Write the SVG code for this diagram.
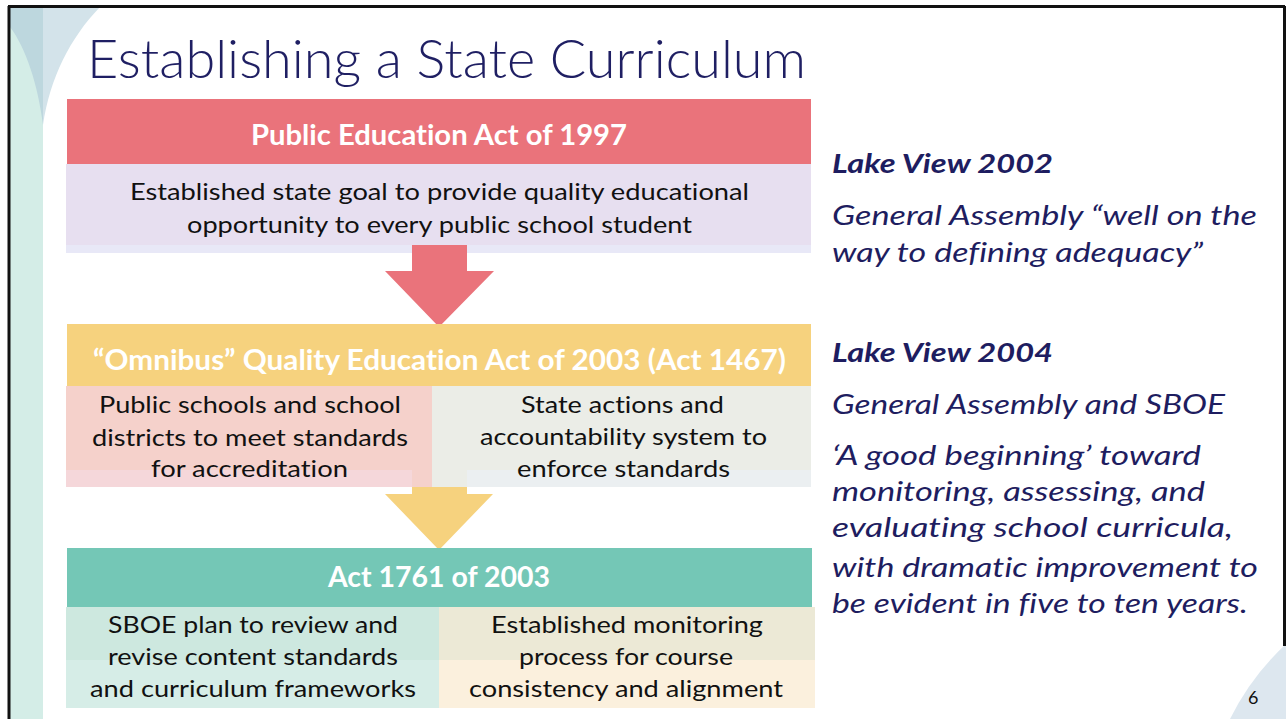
<svg xmlns="http://www.w3.org/2000/svg" width="1286" height="719" viewBox="0 0 1286 719">
<style>
text{font-variant-ligatures:none;font-feature-settings:"liga" 0,"dlig" 0;}
.t{font-family:Lato,"Liberation Sans",sans-serif;}
.hdr{font-family:Lato,"Liberation Sans",sans-serif;font-weight:bold;font-size:28.5px;fill:#ffffff;text-anchor:middle;}
.body{font-family:Lato,"Liberation Sans",sans-serif;font-size:24px;fill:#111111;text-anchor:middle;}
.side{font-family:Lato,"Liberation Sans",sans-serif;font-style:italic;font-size:27px;fill:#1E1D60;}
.sideb{font-family:Lato,"Liberation Sans",sans-serif;font-style:italic;font-weight:bold;font-size:27px;fill:#1E1D60;}
</style>
<rect x="0" y="0" width="1286" height="719" fill="#ffffff"/>
<g id="background">
  <rect x="10" y="7" width="33" height="712" fill="#D4EDE7"/>
  <path d="M10 7 H43 V125 C38 85 26 48 10 27 Z" fill="#BDD7DE"/>
  <path d="M43 7 H100 C70 38 50 78 43 125 Z" fill="#D3E3EA"/>
  <path d="M1286 644 A259 259 0 0 0 1230 719 H1286 Z" fill="#DDE7EF"/>
  <line x1="9" y1="6" x2="9" y2="719" stroke="#111111" stroke-width="3"/>
  <line x1="8" y1="6.5" x2="1285" y2="6.5" stroke="#111111" stroke-width="3"/>
  <line x1="1284.5" y1="6" x2="1284.5" y2="646" stroke="#111111" stroke-width="3"/>
</g>
<g id="title">
  <text class="t" x="87" y="78" font-size="53" font-weight="300" fill="#1F1F63" textLength="719" lengthAdjust="spacingAndGlyphs">Establishing a State Curriculum</text>
</g>
<g id="connectors">
  <path d="M412 244 H467 V271 H494 L439 327 L385 271 H412 Z" fill="#EA737B"/>
  <path d="M412 486 H467 V494 H493 L439 550 L385 494 H412 Z" fill="#F6D27E"/>
</g>
<g id="act1997">
  <rect x="67" y="99" width="744" height="65" fill="#EA737B"/>
  <text class="hdr" x="439" y="145" textLength="376" lengthAdjust="spacingAndGlyphs">Public Education Act of 1997</text>
  <rect x="66" y="164" width="745" height="81" fill="#E7DFF0"/>
  <rect x="66" y="245" width="346" height="8" fill="#E8E8F7"/>
  <rect x="467" y="245" width="344" height="8" fill="#E8E8F7"/>
  <text class="body" x="439.5" y="200" textLength="619" lengthAdjust="spacingAndGlyphs">Established state goal to provide quality educational</text>
  <text class="body" x="439.5" y="233" textLength="505" lengthAdjust="spacingAndGlyphs">opportunity to every public school student</text>
</g>
<g id="act2003-omnibus">
  <rect x="67" y="324" width="744" height="62" fill="#F6D27E"/>
  <text class="hdr" x="439.5" y="370" textLength="693" lengthAdjust="spacingAndGlyphs">“Omnibus” Quality Education Act of 2003 (Act 1467)</text>
  <rect x="66" y="386" width="366" height="101" fill="#F5D1CB"/>
  <rect x="66" y="470" width="346" height="17" fill="#F5D7DA"/>
  <rect x="432" y="386" width="379" height="101" fill="#EBEDE7"/>
  <rect x="467" y="470" width="344" height="17" fill="#EBEFF1"/>
  <text class="body" x="250" y="413" textLength="302" lengthAdjust="spacingAndGlyphs">Public schools and school</text>
  <text class="body" x="250" y="446" textLength="316" lengthAdjust="spacingAndGlyphs">districts to meet standards</text>
  <text class="body" x="249.5" y="477" textLength="197" lengthAdjust="spacingAndGlyphs">for accreditation</text>
  <text class="body" x="622.5" y="413" textLength="203" lengthAdjust="spacingAndGlyphs">State actions and</text>
  <text class="body" x="623.5" y="445" textLength="287" lengthAdjust="spacingAndGlyphs">accountability system to</text>
  <text class="body" x="623.5" y="477" textLength="213" lengthAdjust="spacingAndGlyphs">enforce standards</text>
</g>
<g id="act1761">
  <rect x="67" y="548" width="745" height="59" fill="#74C7B6"/>
  <text class="hdr" x="439" y="587" textLength="222" lengthAdjust="spacingAndGlyphs">Act 1761 of 2003</text>
  <rect x="66" y="607" width="373" height="53" fill="#CDE8DF"/>
  <rect x="66" y="660" width="373" height="48" fill="#D6EDE7"/>
  <rect x="439" y="607" width="376" height="53" fill="#ECE9D6"/>
  <rect x="439" y="660" width="376" height="48" fill="#FBF0DD"/>
  <text class="body" x="253" y="633" textLength="290" lengthAdjust="spacingAndGlyphs">SBOE plan to review and</text>
  <text class="body" x="253" y="665" textLength="290" lengthAdjust="spacingAndGlyphs">revise content standards</text>
  <text class="body" x="253" y="697" textLength="326" lengthAdjust="spacingAndGlyphs">and curriculum frameworks</text>
  <text class="body" x="627" y="633" textLength="272" lengthAdjust="spacingAndGlyphs">Established monitoring</text>
  <text class="body" x="626" y="665" textLength="214" lengthAdjust="spacingAndGlyphs">process for course</text>
  <text class="body" x="626" y="697" textLength="314" lengthAdjust="spacingAndGlyphs">consistency and alignment</text>
</g>
<g id="lakeview2002">
  <text class="sideb" x="832" y="173" textLength="221" lengthAdjust="spacingAndGlyphs">Lake View 2002</text>
  <text class="side" x="832" y="225" textLength="425" lengthAdjust="spacingAndGlyphs">General Assembly “well on the</text>
  <text class="side" x="832" y="262" textLength="371" lengthAdjust="spacingAndGlyphs">way to defining adequacy”</text>
</g>
<g id="lakeview2004">
  <text class="sideb" x="832" y="362" textLength="221" lengthAdjust="spacingAndGlyphs">Lake View 2004</text>
  <text class="side" x="832" y="414" textLength="393" lengthAdjust="spacingAndGlyphs">General Assembly and SBOE</text>
  <text class="side" x="832" y="465" textLength="369" lengthAdjust="spacingAndGlyphs">‘A good beginning’ toward</text>
  <text class="side" x="832" y="501" textLength="373" lengthAdjust="spacingAndGlyphs">monitoring, assessing, and</text>
  <text class="side" x="832" y="537" textLength="401" lengthAdjust="spacingAndGlyphs">evaluating school curricula,</text>
  <text class="side" x="832" y="577" textLength="426" lengthAdjust="spacingAndGlyphs">with dramatic improvement to</text>
  <text class="side" x="832" y="613" textLength="416" lengthAdjust="spacingAndGlyphs">be evident in five to ten years.</text>
</g>
<g id="page-number">
  <text class="t" x="1248" y="704" font-size="18" fill="#111111">6</text>
</g>
</svg>
